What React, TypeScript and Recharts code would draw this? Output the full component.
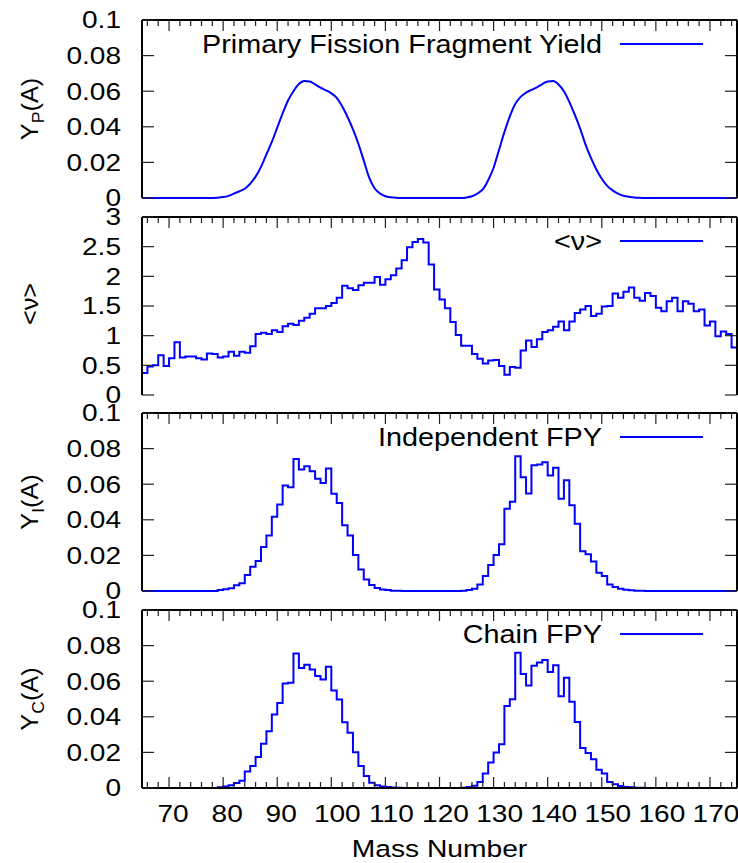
import React from 'react';
import { LineChart, Line, XAxis, YAxis, Legend } from 'recharts';

// Mass numbers A (one point per integer)
const massNumbers = [
  65, 66, 67, 68, 69, 70, 71, 72, 73, 74,
  75, 76, 77, 78, 79, 80, 81, 82, 83, 84,
  85, 86, 87, 88, 89, 90, 91, 92, 93, 94,
  95, 96, 97, 98, 99, 100, 101, 102, 103, 104,
  105, 106, 107, 108, 109, 110, 111, 112, 113, 114,
  115, 116, 117, 118, 119, 120, 121, 122, 123, 124,
  125, 126, 127, 128, 129, 130, 131, 132, 133, 134,
  135, 136, 137, 138, 139, 140, 141, 142, 143, 144,
  145, 146, 147, 148, 149, 150, 151, 152, 153, 154,
  155, 156, 157, 158, 159, 160, 161, 162, 163, 164,
  165, 166, 167, 168, 169, 170, 171, 172, 173, 174,
  175,
];

// Primary fission fragment yield Y_P(A)
const primaryYield = [
  0, 0, 0, 0, 0, 0, 0, 0, 0, 0,
  0, 0, 0, 0, 0.0002, 0.0005, 0.0012, 0.0025, 0.0038, 0.0052,
  0.008, 0.012, 0.0175, 0.0245, 0.0315, 0.0395, 0.0475, 0.0548, 0.06, 0.064,
  0.0657, 0.0655, 0.0638, 0.062, 0.0605, 0.0588, 0.0562, 0.0515, 0.0455, 0.0385,
  0.0305, 0.021, 0.0115, 0.0055, 0.0025, 0.001, 0.0004, 0.0001, 0, 0,
  0, 0, 0, 0, 0, 0, 0, 0, 0, 0,
  0.0003, 0.001, 0.0025, 0.0048, 0.01, 0.017, 0.027, 0.037, 0.0458, 0.0528,
  0.0568, 0.0592, 0.0607, 0.0622, 0.064, 0.0655, 0.0657, 0.0638, 0.06, 0.054,
  0.0468, 0.039, 0.03, 0.0225, 0.016, 0.0108, 0.0068, 0.0043, 0.0025, 0.0013,
  0.0007, 0.0003, 0.0001, 0, 0, 0, 0, 0, 0, 0,
  0, 0, 0, 0, 0, 0, 0, 0, 0, 0,
  0,
];

// Average neutron multiplicity <nu>(A)
const neutronMultiplicity = [
  0.37, 0.48, 0.5, 0.67, 0.49, 0.62, 0.89, 0.63, 0.65, 0.65,
  0.62, 0.6, 0.7, 0.69, 0.63, 0.65, 0.73, 0.66, 0.73, 0.71,
  0.82, 1.03, 1.05, 1.03, 1.09, 1.06, 1.16, 1.2, 1.18, 1.25,
  1.3, 1.37, 1.46, 1.46, 1.5, 1.55, 1.64, 1.84, 1.8, 1.77,
  1.85, 1.89, 1.89, 1.99, 1.86, 1.95, 2.02, 2.13, 2.27, 2.49,
  2.58, 2.63, 2.57, 2.2, 1.78, 1.61, 1.46, 1.23, 1.01, 0.83,
  0.83, 0.69, 0.61, 0.53, 0.58, 0.59, 0.49, 0.34, 0.47, 0.46,
  0.75, 0.92, 0.81, 0.94, 1.06, 1.09, 1.15, 1.24, 1.09, 1.24,
  1.38, 1.44, 1.5, 1.33, 1.37, 1.49, 1.5, 1.71, 1.64, 1.74,
  1.81, 1.64, 1.59, 1.72, 1.67, 1.47, 1.41, 1.58, 1.64, 1.41,
  1.58, 1.54, 1.41, 1.44, 1.17, 1.24, 0.99, 1.07, 1.03, 0.8,
  0.8,
];

// Independent fission product yield Y_I(A)
const independentYield = [
  0, 0, 0, 0, 0, 0, 0, 0, 0, 0,
  0, 0, 0, 0, 0.0006, 0.001, 0.0015, 0.0032, 0.0043, 0.009,
  0.0136, 0.0168, 0.0247, 0.0312, 0.0417, 0.0486, 0.0593, 0.0583, 0.0742, 0.0682,
  0.0701, 0.0673, 0.063, 0.0607, 0.0688, 0.0546, 0.0495, 0.037, 0.0312, 0.0202,
  0.0121, 0.0065, 0.0034, 0.0017, 0.0009, 0.0005, 0.0002, 0.0001, 0, 0,
  0, 0, 0, 0, 0, 0, 0, 0, 0, 0.0002,
  0.0005, 0.0013, 0.0037, 0.0084, 0.0146, 0.0202, 0.0262, 0.0462, 0.0501, 0.0757,
  0.0639, 0.0548, 0.0707, 0.071, 0.0723, 0.0649, 0.0692, 0.0518, 0.0622, 0.0482,
  0.0378, 0.0224, 0.0206, 0.0166, 0.0103, 0.0084, 0.0037, 0.0022, 0.0013, 0.0007,
  0.0004, 0.0002, 0.0001, 0, 0, 0, 0, 0, 0, 0,
  0, 0, 0, 0, 0, 0, 0, 0, 0, 0,
  0,
];

// Chain fission product yield Y_C(A)
const chainYield = [
  0, 0, 0, 0, 0, 0, 0, 0, 0, 0,
  0, 0, 0, 0, 0.0004, 0.0008, 0.0015, 0.0028, 0.0041, 0.0092,
  0.0124, 0.0174, 0.0248, 0.0319, 0.0413, 0.0477, 0.0587, 0.0591, 0.0756, 0.0674,
  0.0692, 0.0666, 0.0629, 0.061, 0.0681, 0.0548, 0.0497, 0.037, 0.0311, 0.0201,
  0.0124, 0.0068, 0.003, 0.0015, 0.0009, 0.0006, 0.0003, 0.0001, 0, 0,
  0, 0, 0, 0, 0, 0, 0, 0, 0, 0.0002,
  0.0005, 0.0013, 0.0034, 0.0081, 0.0143, 0.0199, 0.0246, 0.046, 0.0499, 0.076,
  0.064, 0.0576, 0.0687, 0.0705, 0.0719, 0.0651, 0.069, 0.0516, 0.0619, 0.0484,
  0.0371, 0.0225, 0.0197, 0.0161, 0.0103, 0.0081, 0.0034, 0.0021, 0.0011, 0.0006,
  0.0004, 0.0002, 0.0001, 0, 0, 0, 0, 0, 0, 0,
  0, 0, 0, 0, 0, 0, 0, 0, 0, 0,
  0,
];

// Axis ticks
const xTicks = [
  66, 68, 70, 72, 74, 76, 78, 80, 82, 84, 86, 88, 90, 92, 94, 96, 98, 100,
  102, 104, 106, 108, 110, 112, 114, 116, 118, 120, 122, 124, 126, 128, 130,
  132, 134, 136, 138, 140, 142, 144, 146, 148, 150, 152, 154, 156, 158, 160,
  162, 164, 166, 168, 170, 172, 174,
];
const yieldTicks = [0, 0.02, 0.04, 0.06, 0.08, 0.1];
const nuTicks = [0, 0.5, 1, 1.5, 2, 2.5, 3];

const legendLabels = ['Primary Fission Fragment Yield', '<\u03bd>', 'Independent FPY', 'Chain FPY'];
const xTitle = 'Mass Number';

const data = massNumbers.map((a, i) => ({
  A: a,
  yp: primaryYield[i],
  nu: neutronMultiplicity[i],
  yi: independentYield[i],
  yc: chainYield[i],
}));

const FONT = '"Liberation Sans", Arial, Helvetica, sans-serif';
const W = 738;
const PAD = 15;
const PLOT_H = 178;
const PLOT_W = 595;
const LEFT = 142;
const SX = 1.22;

type PanelCfg = {
  key: string;
  top: number;
  ticks: number[];
  domain: [number, number];
  legend: string;
  title: 'P' | 'nu' | 'I' | 'C';
  curve: 'monotone' | 'stepAfter';
};

const panels: PanelCfg[] = [
  { key: 'yp', top: 20, ticks: yieldTicks, domain: [0, 0.1], legend: legendLabels[0], title: 'P', curve: 'monotone' },
  { key: 'nu', top: 217, ticks: nuTicks, domain: [0, 3], legend: legendLabels[1], title: 'nu', curve: 'stepAfter' },
  { key: 'yi', top: 413, ticks: yieldTicks, domain: [0, 0.1], legend: legendLabels[2], title: 'I', curve: 'stepAfter' },
  { key: 'yc', top: 610, ticks: yieldTicks, domain: [0, 0.1], legend: legendLabels[3], title: 'C', curve: 'stepAfter' },
];

const TICK_COLOR = '#222';

function BottomTick(props: any) {
  const { x, y, payload, showLabel } = props;
  const v = payload.value as number;
  const major = v % 10 === 0;
  const len = major ? 11 : 6;
  const s = String(v);
  return (
    <g>
      <line x1={x} x2={x} y1={y} y2={y - len} stroke={TICK_COLOR} strokeWidth={1.2} />
      {showLabel && major ? (
        <text
          transform={`translate(${x + s.length * 2}, ${y + 34}) scale(${SX},1)`}
          textAnchor="middle"
          fontSize={23}
          fontFamily={FONT}
          fill="#000"
        >
          {s}
        </text>
      ) : null}
    </g>
  );
}

function TopTick(props: any) {
  const { x, y, payload } = props;
  const v = payload.value as number;
  const len = v % 10 === 0 ? 11 : 6;
  return <line x1={x} x2={x} y1={y} y2={y + len} stroke={TICK_COLOR} strokeWidth={1.2} />;
}

function LeftTick(props: any) {
  const { x, y, payload } = props;
  const s = String(payload.value);
  return (
    <g>
      <line x1={x} x2={x + 12} y1={y} y2={y} stroke={TICK_COLOR} strokeWidth={1.2} />
      <text
        transform={`translate(${x - 21}, ${y + 8.3}) scale(${SX},1)`}
        textAnchor="end"
        fontSize={23}
        fontFamily={FONT}
        fill="#000"
      >
        {s}
      </text>
    </g>
  );
}

function RightTick(props: any) {
  const { x, y } = props;
  return <line x1={x} x2={x - 12} y1={y} y2={y} stroke={TICK_COLOR} strokeWidth={1.2} />;
}

function yTitle(kind: PanelCfg['title']) {
  return (props: any) => {
    const vb = props.viewBox || { x: 0, y: PAD, width: LEFT, height: PLOT_H };
    const cy = vb.y + vb.height / 2;
    const bx = 38;
    if (kind === 'nu') {
      return (
        <text
          transform={`translate(${bx}, ${cy - 2}) rotate(-90) scale(1.1,1)`}
          textAnchor="middle"
          fontSize={23}
          fontFamily={FONT}
          fill="#000"
        >
          {'<\u03bd>'}
        </text>
      );
    }
    return (
      <text
        transform={`translate(${bx}, ${cy}) rotate(-90) scale(1.1,1)`}
        textAnchor="middle"
        fontSize={23}
        fontFamily={FONT}
        fill="#000"
      >
        Y
        <tspan dy={6} fontSize={16}>{kind}</tspan>
        <tspan dy={-6}>(A)</tspan>
      </text>
    );
  };
}

function makeLegend(label: string) {
  return () => (
    <svg width={W} height={40} style={{ display: 'block' }}>
      <text
        transform={`translate(602, 29) scale(1.13,1)`}
        textAnchor="end"
        fontSize={25.5}
        fontFamily={FONT}
        fill="#000"
      >
        {label}
      </text>
      <line x1={620} x2={703} y1={20} y2={20} stroke="#0000ff" strokeWidth={2} />
    </svg>
  );
}

function xTitleLabel(props: any) {
  const vb = props.viewBox || { x: LEFT, y: 0, width: PLOT_W, height: 75 };
  const cx = vb.x + vb.width / 2;
  return (
    <text
      transform={`translate(${cx}, ${vb.y + 69}) scale(1.2,1)`}
      textAnchor="middle"
      fontSize={23.5}
      fontFamily={FONT}
      fill="#000"
    >
      {xTitle}
    </text>
  );
}

function Panel({ cfg, last }: { cfg: PanelCfg; last: boolean }) {
  const chartTop = cfg.top - PAD;
  const H = last ? 863 - chartTop : PLOT_H + 2 * PAD;
  const bottomAxisH = last ? H - PAD - PLOT_H : 0;
  return (
    <div style={{ position: 'absolute', left: 0, top: chartTop, width: W, height: H }}>
      <LineChart
        width={W}
        height={H}
        data={data}
        margin={{ top: PAD - 1, right: 0, bottom: last ? 0 : PAD, left: 0 }}
      >
        <XAxis
          xAxisId="b"
          dataKey="A"
          type="number"
          domain={[65, 175]}
          ticks={xTicks}
          interval={0}
          orientation="bottom"
          height={bottomAxisH}
          tickSize={0}
          tickMargin={0}
          tickLine={false}
          axisLine={{ stroke: '#000', strokeWidth: 2 }}
          tick={(p: any) => <BottomTick {...p} showLabel={last} />}
          label={last ? xTitleLabel : undefined}
        />
        <XAxis
          xAxisId="t"
          dataKey="A"
          type="number"
          domain={[65, 175]}
          ticks={xTicks}
          interval={0}
          orientation="top"
          height={1}
          tickSize={0}
          tickMargin={0}
          tickLine={false}
          axisLine={{ stroke: '#000', strokeWidth: 2 }}
          tick={(p: any) => <TopTick {...p} />}
        />
        <YAxis
          yAxisId="l"
          type="number"
          domain={cfg.domain}
          ticks={cfg.ticks}
          interval={0}
          width={LEFT}
          tickSize={0}
          tickMargin={0}
          tickLine={false}
          axisLine={{ stroke: '#000', strokeWidth: 2 }}
          tick={(p: any) => <LeftTick {...p} />}
          label={yTitle(cfg.title)}
        />
        <YAxis
          yAxisId="r"
          orientation="right"
          type="number"
          domain={cfg.domain}
          ticks={cfg.ticks}
          interval={0}
          width={1}
          tickSize={0}
          tickMargin={0}
          tickLine={false}
          axisLine={{ stroke: '#000', strokeWidth: 2 }}
          tick={(p: any) => <RightTick {...p} />}
        />
        <Legend
          layout="horizontal"
          verticalAlign="middle"
          align="center"
          content={makeLegend(cfg.legend)}
          wrapperStyle={{ position: 'absolute', left: 0, top: PAD + 24 - 20, width: W, height: 40 }}
        />
        <Line
          xAxisId="t"
          yAxisId="r"
          dataKey={cfg.key}
          type={cfg.curve}
          stroke="none"
          strokeWidth={0}
          dot={false}
          activeDot={false}
          legendType="none"
          isAnimationActive={false}
        />
        <Line
          xAxisId="b"
          yAxisId="l"
          dataKey={cfg.key}
          type={cfg.curve}
          stroke="#0000ff"
          strokeWidth={2}
          dot={false}
          activeDot={false}
          isAnimationActive={false}
        />
      </LineChart>
    </div>
  );
}

export default function App() {
  return (
    <div
      style={{
        position: 'absolute',
        left: 0,
        top: 0,
        width: W,
        height: 863,
        background: '#fff',
        overflow: 'hidden',
      }}
    >
      {panels.map((cfg, i) => (
        <Panel key={cfg.key} cfg={cfg} last={i === panels.length - 1} />
      ))}
    </div>
  );
}
